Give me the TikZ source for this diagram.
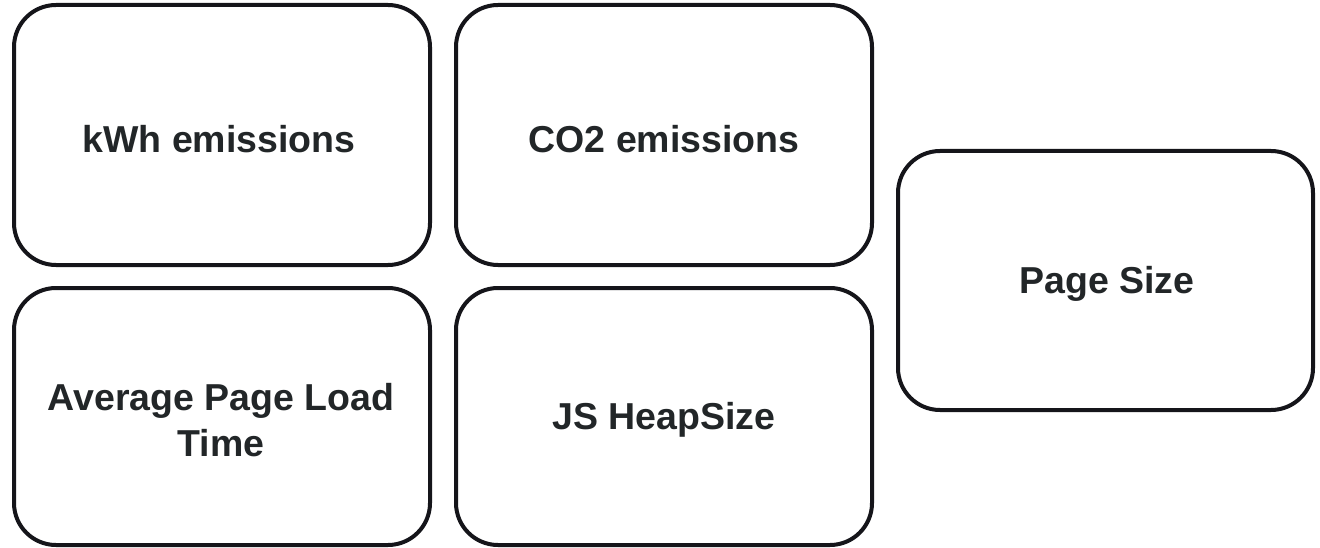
\documentclass[tikz,border=0pt]{standalone}
\usepackage{fontspec}
\setmainfont{Liberation Sans}
\definecolor{strokec}{HTML}{15151A}
\definecolor{textc}{HTML}{222628}
\begin{document}
\begin{tikzpicture}[x=1pt,y=-1pt,
  card/.style={draw=strokec, line width=4pt, rounded corners=42pt, fill=white},
  lbl/.style={text=textc, font=\fontsize{37.5}{46.5}\selectfont\bfseries, align=center}]
\useasboundingbox (0,0) rectangle (1320,548);
\draw[card] (14,5) rectangle (430,265);
\node[lbl] (kwh) at (219,139) {kWh emissions};
\draw[card] (456,5) rectangle (872,265);
\node[lbl] (co2) at (664,139) {CO2 emissions};
\draw[card] (14,288) rectangle (430,545);
\node[lbl] (apl) at (221,420) {Average Page Load\\Time};
\draw[card] (456,288) rectangle (872,545);
\node[lbl] (js) at (664,420) {JS HeapSize};
\draw[card] (898,151) rectangle (1313,410);
\node[lbl] (ps) at (1107,284) {Page Size};
\end{tikzpicture}
\end{document}
